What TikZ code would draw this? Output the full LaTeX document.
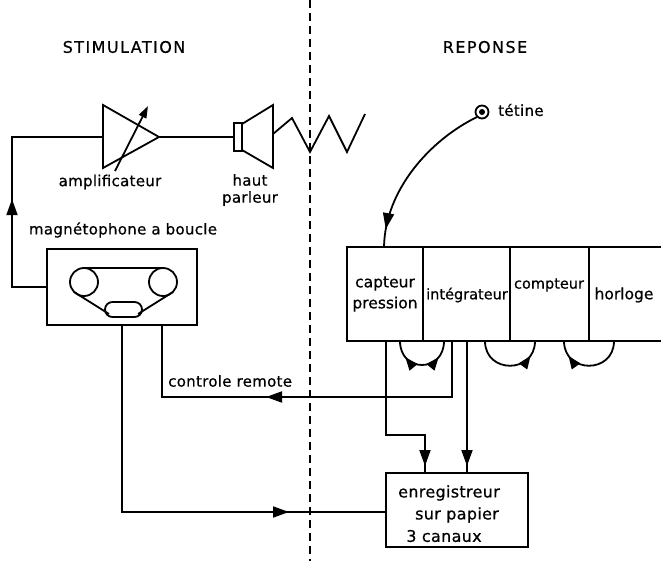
\documentclass[tikz,border=0pt]{standalone}
\usepackage{fontspec}
\setmainfont{DejaVu Sans}[FakeBold=0.6]
\newfontfamily\capsfont[LetterSpace=9,FakeBold=0.6]{DejaVu Sans}
\newfontfamily\spacedfont[LetterSpace=2,FakeBold=0.6]{DejaVu Sans}
\usetikzlibrary{arrows.meta,decorations.markings,calc}
\tikzset{
  wire/.style={line width=1.8pt},
  markarrow/.style={postaction={decorate},decoration={markings,mark=at position #1 with {\arrow{Triangle[length=16pt,width=11pt]}}}},
  loopfwd/.style={postaction={decorate},decoration={markings,mark=at position #1 with {\arrow{Triangle[length=13pt,width=10pt]}}}},
  loopboth/.style 2 args={postaction={decorate},decoration={markings,
     mark=at position #1 with {\arrowreversed{Triangle[length=13pt,width=10pt]}},
     mark=at position #2 with {\arrow{Triangle[length=13pt,width=10pt]}}}},
  lbl/.style={inner sep=0pt,font=\spacedfont\fontsize{15}{17}\selectfont},
  boxlbl/.style={inner sep=0pt,align=center,font=\fontsize{15.5}{21}\selectfont},
  titlelbl/.style={inner sep=0pt,font=\capsfont\fontsize{16}{18}\selectfont},
  reclbl/.style={inner sep=0pt,font=\spacedfont\fontsize{16}{18}\selectfont},
}
\begin{document}
\begin{tikzpicture}[x=1pt,y=-1pt,line join=miter]
\useasboundingbox (0,0) rectangle (661,561);
% separator
\draw[line width=1.6pt,dash pattern=on 8pt off 5pt] (310,0) -- (310,561);
% titles
\node[titlelbl] (stim) at (124,47) {STIMULATION};
\node[titlelbl] (rep) at (485,47) {REPONSE};
% amplifier
\coordinate (ampL) at (103,137);
\coordinate (ampT) at (159,137);
\draw[wire] (103,105) -- (ampT) -- (103,168) -- cycle;
\draw[wire,-{Triangle[length=12pt,width=8pt]}] (115,171) -- (148,106);
\node[lbl] (amplab) at (110,182) {amplificateur};
% speaker
\coordinate (spkL) at (234,137);
\draw[wire] (234,123) rectangle (242,151);
\draw[wire] (242,124) -- (273,105) -- (273,168) -- (242,150);
\draw[wire] (273,134) -- (292,118) -- (310,152) -- (329,116) -- (347,152) -- (365,114);
\node[lbl,align=center] (spklab) at (250,190) {haut\\parleur};
\draw[wire] (ampT) -- (spkL);
% tape recorder
\node[lbl] (magn) at (123,230) {magnétophone a boucle};
\node[draw,line width=1.8pt,minimum width=150pt,minimum height=76pt,inner sep=0pt] (tape) at (122,287) {};
\draw[wire] (84,282) circle (14);
\draw[wire] (163,282) circle (14);
\draw[wire,rounded corners=7.5pt] (105,302) rectangle (142,317);
\draw[wire] (84,268) -- (163,268);
\draw[wire] (74,292) -- (109,314);
\draw[wire] (173,292) -- (138,314);
\coordinate (fbc) at (12,287);
\coordinate (fbt) at (12,137);
\draw[wire,markarrow=122pt] (tape.west) -- (fbc) -- (fbt) -- (ampL);
% response box
\coordinate (rbTL) at (347,247);
\coordinate (rbBL) at (347,341);
\draw[wire] (661,247) -- (rbTL) -- (rbBL) -- (661,341);
\draw[wire] (423,247) -- (423,341);
\draw[wire] (510,247) -- (510,341);
\draw[wire] (589,247) -- (589,341);
\node[boxlbl] (capt) at (385,294) {capteur\\pression};
\node[boxlbl,font=\fontsize{14.5}{17}\selectfont] (integ) at (467,295) {intégrateur};
\node[boxlbl,font=\fontsize{14.5}{17}\selectfont] (compt) at (549,285) {compteur};
\node[boxlbl] (horl) at (624,295) {horloge};
% tetine
\draw[wire] (482,112) circle (6.5);
\fill (482,112) circle (3);
\coordinate (tet) at (477,117);
\coordinate (captTop) at (384,247);
\node[lbl,anchor=west] (tetlab) at (498,110) {tétine};
\draw[wire,markarrow=-18pt] (tet) .. controls (430,140) and (385,190) .. (captTop);
% loops
\draw[wire,loopboth={0.24}{0.76}] (400,341) .. controls (400,373) and (444,373) .. (444,341);
\draw[wire,loopfwd=0.8] (485,341) .. controls (485,374) and (535,374) .. (535,341);
\draw[wire,loopfwd=0.8] (614,341) .. controls (614,374) and (564,374) .. (564,341);
% recorder
\node[draw,line width=1.8pt,minimum width=142pt,minimum height=74pt,inner sep=0pt] (rec) at (457,510) {};
\node[reclbl] (rec1) at (449,493) {enregistreur};
\node[reclbl] (rec2) at (457,515) {sur papier};
\node[reclbl] (rec3) at (444,536) {3 canaux};
% connectors
\coordinate (tapeA) at (122,325);
\coordinate (tapeB) at (162,325);
\coordinate (recW) at (rec.west |- 0,512);
\draw[wire,markarrow=354pt] (tapeA) |- (recW);
\coordinate (intB) at (452,341);
\node[lbl,anchor=west] (ctrl) at (168,381) {controle remote};
\draw[wire,markarrow=242pt] (intB) |- (162,397) -- (tapeB);
\coordinate (capB) at (386,341);
\coordinate (recT1) at (425,473);
\draw[wire,markarrow=-7pt] (capB) -- (386,435) -| (recT1);
\coordinate (intB2) at (467,341);
\coordinate (recT2) at (467,473);
\draw[wire,markarrow=-7pt] (intB2) -- (recT2);
\end{tikzpicture}
\end{document}
